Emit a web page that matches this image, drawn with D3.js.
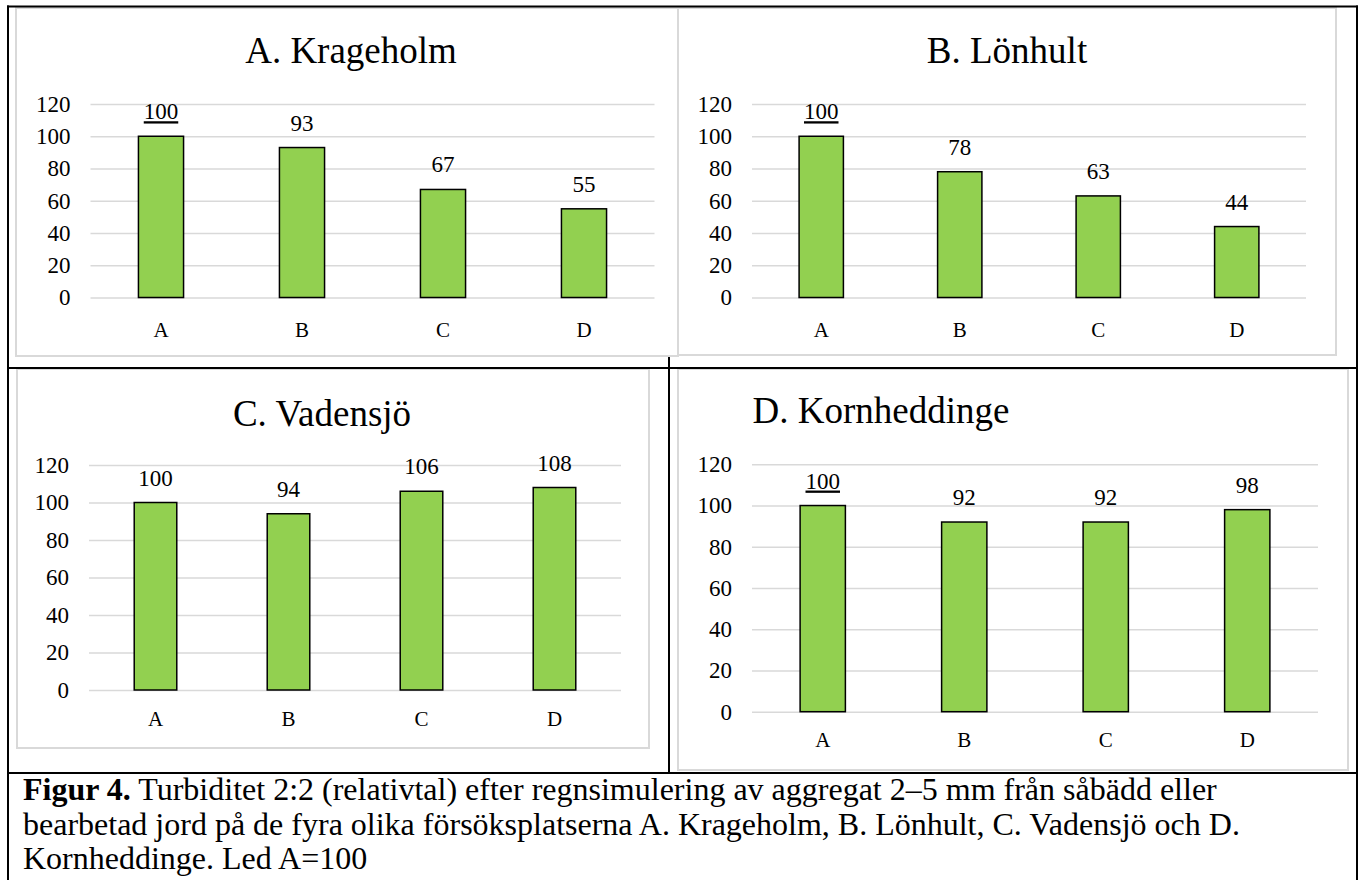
<!DOCTYPE html>
<html>
<head>
<meta charset="utf-8">
<script src="https://cdn.jsdelivr.net/npm/d3@7/dist/d3.min.js"></script>
<style>
  html, body { margin: 0; padding: 0; background: #ffffff; }
  svg { display: block; }
  text { font-family: "Liberation Serif", "Times New Roman", serif; fill: #000; }
</style>
</head>
<body>
<svg id="fig" width="1360" height="880"></svg>
<script>
// Treatments (led) shown on every panel
const categories = ["A", "B", "C", "D"];

// Site titles
const siteTitles = ["A. Krageholm", "B. Lönhult", "C. Vadensjö", "D. Kornheddinge"];

// Turbidity 2:2, relative numbers (led A = 100)
const krageholm = [100, 93, 67, 55];
const lonhult = [100, 78, 63, 44];
const vadensjo = [100, 94, 106, 108];
const kornheddinge = [100, 92, 92, 98];

// Y axis ticks
const yTicks = [0, 20, 40, 60, 80, 100, 120];

const captionBold = "Figur 4.";
const captionLines = [
  " Turbiditet 2:2 (relativtal) efter regnsimulering av aggregat 2–5 mm från såbädd eller",
  "bearbetad jord på de fyra olika försöksplatserna A. Krageholm, B. Lönhult, C. Vadensjö och D.",
  "Kornheddinge. Led A=100"
];

const siteValues = [krageholm, lonhult, vadensjo, kornheddinge];

const SERIF = "'Liberation Serif', 'Times New Roman', serif";

// Panel geometry: chart box, plot area and text placement
const panels = [
  { box: [16, 8, 678, 356], plot: [90.5, 104, 654.5, 297.5], titleX: 351, titleY: 63, catPad: 25, underline: true },
  { box: [678, 8, 1336, 355], plot: [752, 104, 1306, 297.5], titleX: 1007, titleY: 63, catPad: 25, underline: true },
  { box: [17, 369, 649, 748], plot: [89, 465, 621, 690], titleX: 322, titleY: 426, catPad: 21, underline: false },
  { box: [678, 369, 1348, 770], plot: [752, 464.3, 1318, 711.7], titleX: 881, titleY: 423, catPad: 20, underline: true }
];

const svg = d3.select("#fig");
const GREEN = "#92d050";
const GRID = "#d9d9d9";

panels.forEach((p, i) => {
  const [bx0, by0, bx1, by1] = p.box;
  const [px0, py0, px1, py1] = p.plot;
  const g = svg.append("g");

  // chart area with its light frame
  g.append("rect")
    .attr("x", bx0).attr("y", by0)
    .attr("width", bx1 - bx0).attr("height", by1 - by0)
    .attr("fill", "#fff").attr("stroke", GRID).attr("stroke-width", 2);

  g.append("text")
    .attr("x", p.titleX).attr("y", p.titleY)
    .attr("text-anchor", "middle")
    .style("font-family", SERIF)
    .style("font-size", "37px")
    .text(siteTitles[i]);

  const x = d3.scaleBand().domain(categories).range([px0, px1])
    .paddingInner(0.68).paddingOuter(0.34);
  const y = d3.scaleLinear().domain([0, 120]).range([py1, py0]);

  // gridlines and value axis labels
  const yAxis = g.append("g")
    .attr("transform", `translate(${px0},0)`)
    .call(d3.axisLeft(y).tickValues(yTicks).tickSize(-(px1 - px0)).tickPadding(20).tickFormat(d3.format("d")));
  yAxis.select(".domain").remove();
  yAxis.selectAll(".tick line").attr("stroke", GRID).attr("stroke-width", 1.5);
  yAxis.selectAll(".tick text")
    .style("font-family", SERIF)
    .style("font-size", "23px").style("fill", "#000");

  // category labels
  const xAxis = g.append("g")
    .attr("transform", `translate(0,${py1})`)
    .call(d3.axisBottom(x).tickSize(0).tickPadding(p.catPad));
  xAxis.select(".domain").remove();
  xAxis.selectAll(".tick text")
    .style("font-family", SERIF)
    .style("font-size", "21px").style("fill", "#000");

  const rows = categories.map((c, k) => ({ cat: c, value: siteValues[i][k], idx: k }));

  g.selectAll("rect.bar").data(rows).enter().append("rect")
    .attr("class", "bar")
    .attr("x", d => x(d.cat))
    .attr("y", d => y(d.value))
    .attr("width", x.bandwidth())
    .attr("height", d => y(0) - y(d.value))
    .attr("fill", GREEN)
    .attr("stroke", "#000").attr("stroke-width", 1.5);

  g.selectAll("text.val").data(rows).enter().append("text")
    .attr("class", "val")
    .attr("x", d => x(d.cat) + x.bandwidth() / 2)
    .attr("y", d => y(d.value) - 17)
    .attr("text-anchor", "middle")
    .style("font-family", SERIF)
    .style("font-size", "23px")
    .style("text-decoration", d => (p.underline && d.idx === 0) ? "underline" : "none")
    .text(d => d.value);
});

// table rules around and between the panels
const rules = [
  [7, 6.5, 1358, 6.5],
  [8, 5.5, 8, 880],
  [1357, 5.5, 1357, 880],
  [8, 368, 1357, 368],
  [8, 773, 1357, 773],
  [669, 357, 669, 773]
];
svg.append("g").selectAll("line").data(rules).enter().append("line")
  .attr("x1", d => d[0]).attr("y1", d => d[1])
  .attr("x2", d => d[2]).attr("y2", d => d[3])
  .attr("stroke", "#000").attr("stroke-width", 2);

// caption
const CAP_SIZE = 32, CAP_LEAD = 34.5, CAP_TOP = 800;
const cap = svg.append("text").attr("x", 23).attr("y", CAP_TOP)
  .style("font-family", SERIF).style("font-size", CAP_SIZE + "px");
cap.append("tspan").style("font-weight", "bold").text(captionBold);
cap.append("tspan").text(captionLines[0]);
captionLines.slice(1).forEach((line, k) => {
  svg.append("text").attr("x", 23).attr("y", CAP_TOP + (k + 1) * CAP_LEAD)
    .style("font-family", SERIF).style("font-size", CAP_SIZE + "px")
    .text(line);
});
</script>
</body>
</html>
